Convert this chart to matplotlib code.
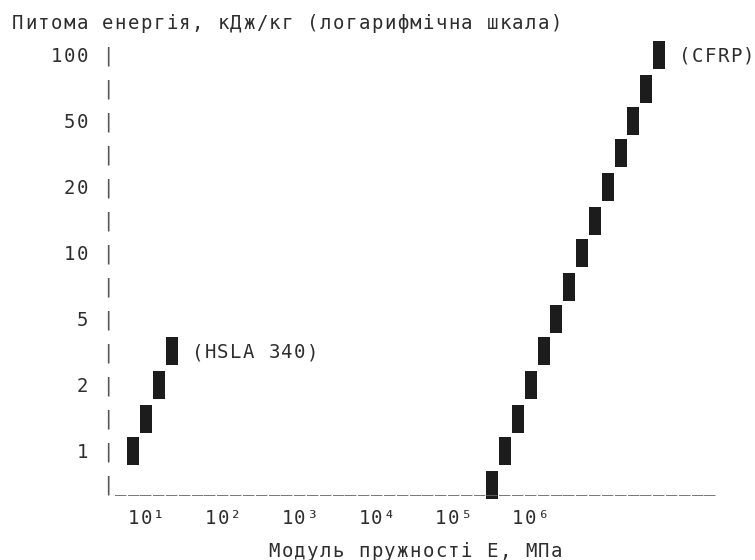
import numpy as np
import matplotlib
matplotlib.use("Agg")
import matplotlib.pyplot as plt

# ---------------- data ----------------
title = "Питома енергія, кДж/кг (логарифмічна шкала)"
xlabel = "Модуль пружності E, МПа"
y_ticks = [1, 2, 5, 10, 20, 50, 100]
y_tick_labels = ["1", "2", "5", "10", "20", "50", "100"]
x_ticks = [1e1, 1e2, 1e3, 1e4, 1e5, 1e6]
x_tick_labels = ["10¹", "10²", "10³", "10⁴", "10⁵", "10⁶"]

hsla_name = "(HSLA 340)"
hsla_E = [6.8, 10, 14.7, 21.5]
hsla_energy = [1, 1.4, 2, 3.2]

cfrp_name = "(CFRP)"
cfrp_E = [3.16e5, 4.64e5, 6.8e5, 1e6, 1.47e6, 2.15e6, 3.16e6, 4.64e6,
          6.8e6, 1e7, 1.47e7, 2.15e7, 3.16e7, 4.64e7]
cfrp_energy = [0.7, 1, 1.4, 2, 3.2, 5, 7, 10, 14, 20, 32, 50, 70, 100]

# ---------------- layout (text grid) ----------------
W, H = 755, 560
CW = 12.82      # cell width px
X0 = 11.5       # left edge of column 0
RH = 33.0       # row height px
R0 = 22.0       # centre of row 0 from top
FS = 13.7
BOFF = 0.3645 * FS * 100 / 72   # baseline offset below row centre (px)
TEXT_C = "#2e2e2e"
BAR_C = "#555555"
BLOCK_C = "#1c1c1c"
FONT = ["DejaVu Sans Mono", "DejaVu Sans"]

fig = plt.figure(figsize=(W / 100, H / 100), dpi=100)
ax = fig.add_axes([0, 0, 1, 1])
ax.set_axis_off()

# y scale: 1-2-5 steps evenly spaced (2 rows each)
lev = np.array([0.1, 0.2, 0.5, 1, 2, 5, 10, 20, 50, 100, 200, 500])
ypos = np.array([-3, -1, 1, 3, 5, 7, 9, 11, 13, 15, 17, 19], float)
llev = np.log10(lev)


def fwd(v):
    v = np.clip(np.asarray(v, float), 1e-12, None)
    return np.interp(np.log10(v), llev, ypos)


def inv(y):
    return 10 ** np.interp(np.asarray(y, float), ypos, llev)


ax.set_xscale("log")
ax.set_yscale("function", functions=(fwd, inv))


# x: decade = 6 columns, 10^1 centred on column 10
def col_of_px(px):
    return (px - X0) / CW - 0.5


lx0 = 1 + (col_of_px(0) - 10) / 6
lx1 = 1 + (col_of_px(W) - 10) / 6
ax.set_xlim(10 ** lx0, 10 ** lx1)
# y units: y = 16 - row
ax.set_ylim(inv(16 - (H - R0) / RH), inv(16 + R0 / RH))


def row_base(row):
    # baseline pixel (from bottom) for a text row
    return H - (R0 + RH * row) - BOFF


def put_px(s, left_px, base_px, color=TEXT_C):
    for i, ch in enumerate(s):
        if ch == " ":
            continue
        cx = left_px + CW * (i + 0.5)
        fig.text(cx / W, base_px / H, ch, ha="center", va="baseline",
                 fontsize=FS, color=color, family=FONT)


def put(s, col, row, color=TEXT_C):
    put_px(s, X0 + CW * col, row_base(row), color)


def data_px(x, y):
    return ax.transData.transform((x, y))


# title and x label
put(title, 0, 0)
put(xlabel, 20, 16)

# y axis: bar characters on rows 1..14, tick labels every other row
for r in range(1, 15):
    put("|", 7, r, BAR_C)
for v, lab in zip(y_ticks, y_tick_labels):
    py = data_px(1, v)[1]
    put_px(lab, X0 + CW * (6 - len(lab)), py - BOFF)

# x axis row: underscores
axis_row = 14
put("_" * 47, 8, axis_row, "#666666")

# x tick labels (centred on their value)
for v, lab in zip(x_ticks, x_tick_labels):
    px = data_px(v, 1)[0]
    put_px(lab, px - CW * len(lab) / 2, row_base(15))

# blocks
blk = [(-0.22, -0.5), (0.22, -0.5), (0.22, 0.5), (-0.22, 0.5), (-0.22, -0.5)]
for E, en in ((hsla_E, hsla_energy), (cfrp_E, cfrp_energy)):
    ax.plot(E, en, ls="none", marker=blk, ms=19.6, color=BLOCK_C,
            markeredgewidth=0, clip_on=False)

# series labels: one space after the top block
for E, en, name in ((hsla_E, hsla_energy, hsla_name),
                    (cfrp_E, cfrp_energy, cfrp_name)):
    px, py = data_px(E[-1], en[-1])
    put_px(name, px + CW * 1.5, py - BOFF)

fig.savefig("out.png", dpi=100)
